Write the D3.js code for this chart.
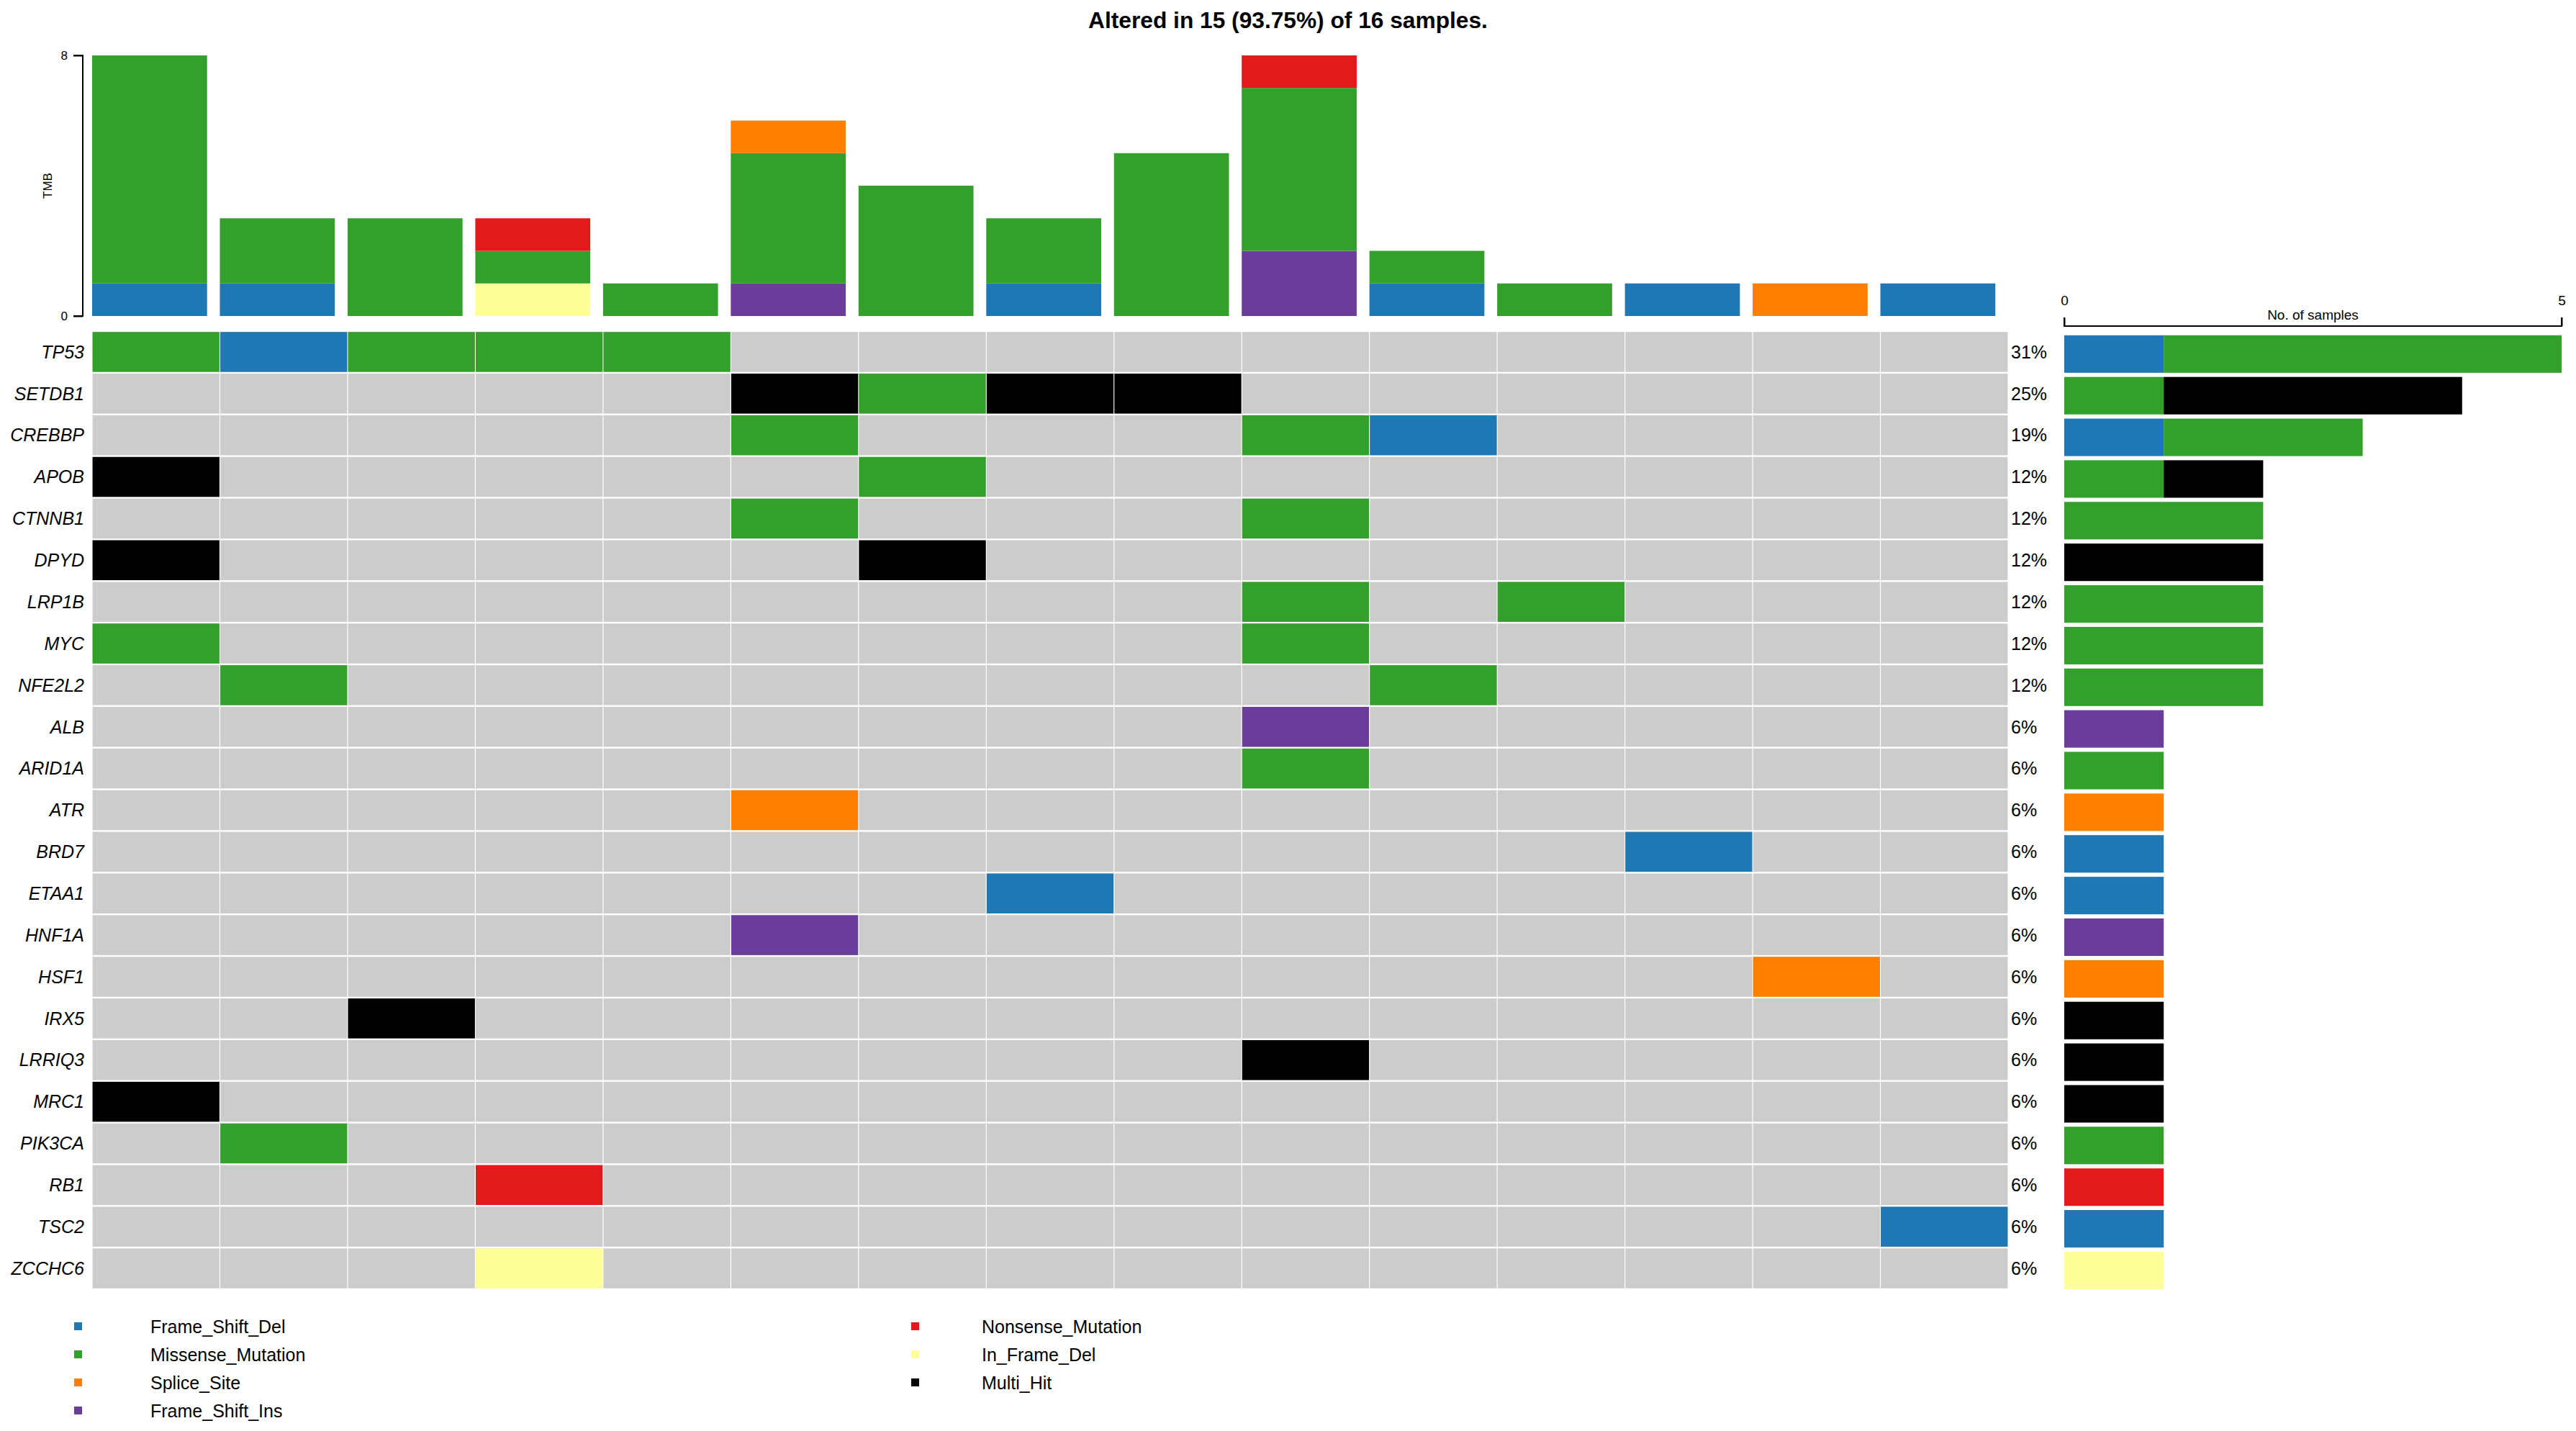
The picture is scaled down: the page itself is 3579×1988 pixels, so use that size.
<!DOCTYPE html>
<html>
<head>
<meta charset="utf-8">
<script src="https://cdn.jsdelivr.net/npm/d3@7"></script>
<style>
  body { margin: 0; background: #fff; }
  svg { display: block; font-family: "Liberation Sans", Arial, Helvetica, sans-serif; }
</style>
</head>
<body>
<div id="oncoplot"></div>
<script>
// Oncoplot: 23 genes x 15 altered samples (16 samples total)
const genes = ['TP53', 'SETDB1', 'CREBBP', 'APOB', 'CTNNB1', 'DPYD', 'LRP1B', 'MYC', 'NFE2L2',
  'ALB', 'ARID1A', 'ATR', 'BRD7', 'ETAA1', 'HNF1A', 'HSF1', 'IRX5', 'LRRIQ3', 'MRC1',
  'PIK3CA', 'RB1', 'TSC2', 'ZCCHC6'];
const samples = d3.range(15);
const totalSamples = 16;

const variantClasses = ['Frame_Shift_Del', 'Missense_Mutation', 'Splice_Site', 'Frame_Shift_Ins',
  'Nonsense_Mutation', 'In_Frame_Del', 'Multi_Hit'];
const classColors = ['#1F78B4', '#33A02C', '#FF7F00', '#6A3D9A', '#E31A1C', '#FFFF99', '#000000'];

// altered cells: [gene, sample column, variant class]
const cells = [
  ['TP53', 0, 'Missense_Mutation'], ['TP53', 1, 'Frame_Shift_Del'], ['TP53', 2, 'Missense_Mutation'],
  ['TP53', 3, 'Missense_Mutation'], ['TP53', 4, 'Missense_Mutation'],
  ['SETDB1', 5, 'Multi_Hit'], ['SETDB1', 6, 'Missense_Mutation'], ['SETDB1', 7, 'Multi_Hit'], ['SETDB1', 8, 'Multi_Hit'],
  ['CREBBP', 5, 'Missense_Mutation'], ['CREBBP', 9, 'Missense_Mutation'], ['CREBBP', 10, 'Frame_Shift_Del'],
  ['APOB', 0, 'Multi_Hit'], ['APOB', 6, 'Missense_Mutation'],
  ['CTNNB1', 5, 'Missense_Mutation'], ['CTNNB1', 9, 'Missense_Mutation'],
  ['DPYD', 0, 'Multi_Hit'], ['DPYD', 6, 'Multi_Hit'],
  ['LRP1B', 9, 'Missense_Mutation'], ['LRP1B', 11, 'Missense_Mutation'],
  ['MYC', 0, 'Missense_Mutation'], ['MYC', 9, 'Missense_Mutation'],
  ['NFE2L2', 1, 'Missense_Mutation'], ['NFE2L2', 10, 'Missense_Mutation'],
  ['ALB', 9, 'Frame_Shift_Ins'],
  ['ARID1A', 9, 'Missense_Mutation'],
  ['ATR', 5, 'Splice_Site'],
  ['BRD7', 12, 'Frame_Shift_Del'],
  ['ETAA1', 7, 'Frame_Shift_Del'],
  ['HNF1A', 5, 'Frame_Shift_Ins'],
  ['HSF1', 13, 'Splice_Site'],
  ['IRX5', 2, 'Multi_Hit'],
  ['LRRIQ3', 9, 'Multi_Hit'],
  ['MRC1', 0, 'Multi_Hit'],
  ['PIK3CA', 1, 'Missense_Mutation'],
  ['RB1', 3, 'Nonsense_Mutation'],
  ['TSC2', 14, 'Frame_Shift_Del'],
  ['ZCCHC6', 3, 'In_Frame_Del']
];

const pctLabels = ['31%', '25%', '19%', '12%', '12%', '12%', '12%', '12%', '12%',
  '6%', '6%', '6%', '6%', '6%', '6%', '6%', '6%', '6%', '6%', '6%', '6%', '6%', '6%'];

// TMB per sample, by variant class (stacked bottom to top in this order)
const tmbKeys = ['Frame_Shift_Del', 'Frame_Shift_Ins', 'In_Frame_Del', 'Missense_Mutation', 'Nonsense_Mutation', 'Splice_Site'];
const tmbFrameShiftDel = [1, 1, 0, 0, 0, 0, 0, 1, 0, 0, 1, 0, 1, 0, 1];
const tmbFrameShiftIns = [0, 0, 0, 0, 0, 1, 0, 0, 0, 2, 0, 0, 0, 0, 0];
const tmbInFrameDel = [0, 0, 0, 1, 0, 0, 0, 0, 0, 0, 0, 0, 0, 0, 0];
const tmbMissense = [7, 2, 3, 1, 1, 4, 4, 2, 5, 5, 1, 1, 0, 0, 0];
const tmbNonsense = [0, 0, 0, 1, 0, 0, 0, 0, 0, 1, 0, 0, 0, 0, 0];
const tmbSplice = [0, 0, 0, 0, 0, 1, 0, 0, 0, 0, 0, 0, 0, 1, 0];
const tmbTicks = [0, 8];
const sampleAxisTicks = [0, 5];

const width = 3579;
const height = 1988;

const color = d3.scaleOrdinal().domain(variantClasses).range(classColors);

const svg = d3.select('#oncoplot')
  .append('svg')
  .attr('width', width)
  .attr('height', height)
  .attr('viewBox', `0 0 ${width} ${height}`);

// Scales
const x = d3.scaleBand().domain(samples).range([128, 2790]);
const y = d3.scaleBand().domain(genes).range([460, 1791]);
const yTmb = d3.scaleLinear().domain([0, 8]).range([439, 77]);
const xCount = d3.scaleLinear().domain([0, 5]).range([2868, 3559]);

// Title
svg.append('text')
  .attr('x', width / 2)
  .attr('y', 39)
  .attr('text-anchor', 'middle')
  .style('font-size', '31.7px')
  .style('font-weight', 'bold')
  .text(`Altered in 15 (93.75%) of ${totalSamples} samples.`);

// TMB stacked bars
const tmbRows = samples.map(i => ({
  Frame_Shift_Del: tmbFrameShiftDel[i],
  Frame_Shift_Ins: tmbFrameShiftIns[i],
  In_Frame_Del: tmbInFrameDel[i],
  Missense_Mutation: tmbMissense[i],
  Nonsense_Mutation: tmbNonsense[i],
  Splice_Site: tmbSplice[i],
  sample: i
}));
const tmbStack = d3.stack().keys(tmbKeys)(tmbRows);

svg.append('g')
  .selectAll('g')
  .data(tmbStack)
  .join('g')
  .attr('fill', d => color(d.key))
  .selectAll('rect')
  .data(d => d.filter(s => s[1] > s[0]))
  .join('rect')
  .attr('x', d => x(d.data.sample))
  .attr('width', x.bandwidth() * 0.9)
  .attr('y', d => yTmb(d[1]))
  .attr('height', d => yTmb(d[0]) - yTmb(d[1]));

const tmbAxis = svg.append('g')
  .attr('transform', 'translate(115,0)')
  .call(d3.axisLeft(yTmb).tickValues(tmbTicks).tickSize(13).tickPadding(8).tickFormat(d3.format('d')));
tmbAxis.selectAll('path, line').attr('stroke', '#000').attr('stroke-width', 2);
tmbAxis.select('.domain').attr('d', `M-13,${yTmb(8)}H0V${yTmb(0)}H-13`);
tmbAxis.selectAll('text')
  .style('font-size', '17px')
  .style('font-family', '"Liberation Sans", Arial, sans-serif')
  .attr('fill', '#000');

svg.append('text')
  .attr('transform', `translate(72, ${(yTmb(0) + yTmb(8)) / 2}) rotate(-90)`)
  .attr('text-anchor', 'middle')
  .style('font-size', '17px')
  .text('TMB');

// Heatmap background grid
const grid = svg.append('g');
genes.forEach(g => {
  grid.selectAll(null)
    .data(samples)
    .join('rect')
    .attr('x', s => x(s) + 0.6)
    .attr('y', y(g) + 1.2)
    .attr('width', x.bandwidth() - 1.2)
    .attr('height', y.bandwidth() - 2.4)
    .attr('fill', '#CCCCCC');
});

// Altered cells
svg.append('g')
  .selectAll('rect')
  .data(cells)
  .join('rect')
  .attr('x', d => x(d[1]) + 0.6)
  .attr('y', d => y(d[0]) + 1.2)
  .attr('width', x.bandwidth() - 1.2)
  .attr('height', y.bandwidth() - 2.4)
  .attr('fill', d => color(d[2]));

// Gene labels
svg.append('g')
  .selectAll('text')
  .data(genes)
  .join('text')
  .attr('x', 117)
  .attr('y', g => y(g) + y.bandwidth() / 2)
  .attr('dy', '0.35em')
  .attr('text-anchor', 'end')
  .style('font-size', '25px')
  .style('font-style', 'italic')
  .text(g => g);

// Percent labels
svg.append('g')
  .selectAll('text')
  .data(genes)
  .join('text')
  .attr('x', 2794)
  .attr('y', g => y(g) + y.bandwidth() / 2)
  .attr('dy', '0.35em')
  .style('font-size', '25px')
  .text((g, i) => pctLabels[i]);

// Right side bars: samples per gene by variant class
const geneRows = genes.map(g => {
  const row = { gene: g };
  variantClasses.forEach(vc => {
    row[vc] = cells.filter(c => c[0] === g && c[2] === vc).length;
  });
  return row;
});
const geneStack = d3.stack().keys(variantClasses)(geneRows);

svg.append('g')
  .selectAll('g')
  .data(geneStack)
  .join('g')
  .attr('fill', d => color(d.key))
  .selectAll('rect')
  .data(d => d.filter(s => s[1] > s[0]))
  .join('rect')
  .attr('x', d => xCount(d[0]))
  .attr('width', d => xCount(d[1]) - xCount(d[0]))
  .attr('y', d => y(d.data.gene) + y.bandwidth() * 0.1)
  .attr('height', y.bandwidth() * 0.9);

const countAxis = svg.append('g')
  .attr('transform', 'translate(0,453)')
  .call(d3.axisTop(xCount).tickValues(sampleAxisTicks).tickSize(12).tickPadding(17).tickFormat(d3.format('d')));
countAxis.selectAll('path, line').attr('stroke', '#000').attr('stroke-width', 2);
countAxis.select('.domain').attr('d', `M${xCount(0)},-12V0H${xCount(5)}V-12`);
countAxis.selectAll('text')
  .style('font-size', '19px')
  .style('font-family', '"Liberation Sans", Arial, sans-serif')
  .attr('fill', '#000');

svg.append('text')
  .attr('x', (xCount(0) + xCount(5)) / 2)
  .attr('y', 444)
  .attr('text-anchor', 'middle')
  .style('font-size', '19px')
  .text('No. of samples');

// Legend
const legendCols = [
  { classes: variantClasses.slice(0, 4), markX: 103, textX: 209 },
  { classes: variantClasses.slice(4), markX: 1266, textX: 1364 }
];
legendCols.forEach(col => {
  const items = svg.append('g')
    .selectAll('g')
    .data(col.classes)
    .join('g')
    .attr('transform', (d, i) => `translate(0, ${1843 + i * 39})`);
  items.append('rect')
    .attr('x', col.markX)
    .attr('y', -6)
    .attr('width', 11)
    .attr('height', 11)
    .attr('fill', d => color(d));
  items.append('text')
    .attr('x', col.textX)
    .attr('dy', '0.35em')
    .style('font-size', '25px')
    .text(d => d);
});
</script>
</body>
</html>
